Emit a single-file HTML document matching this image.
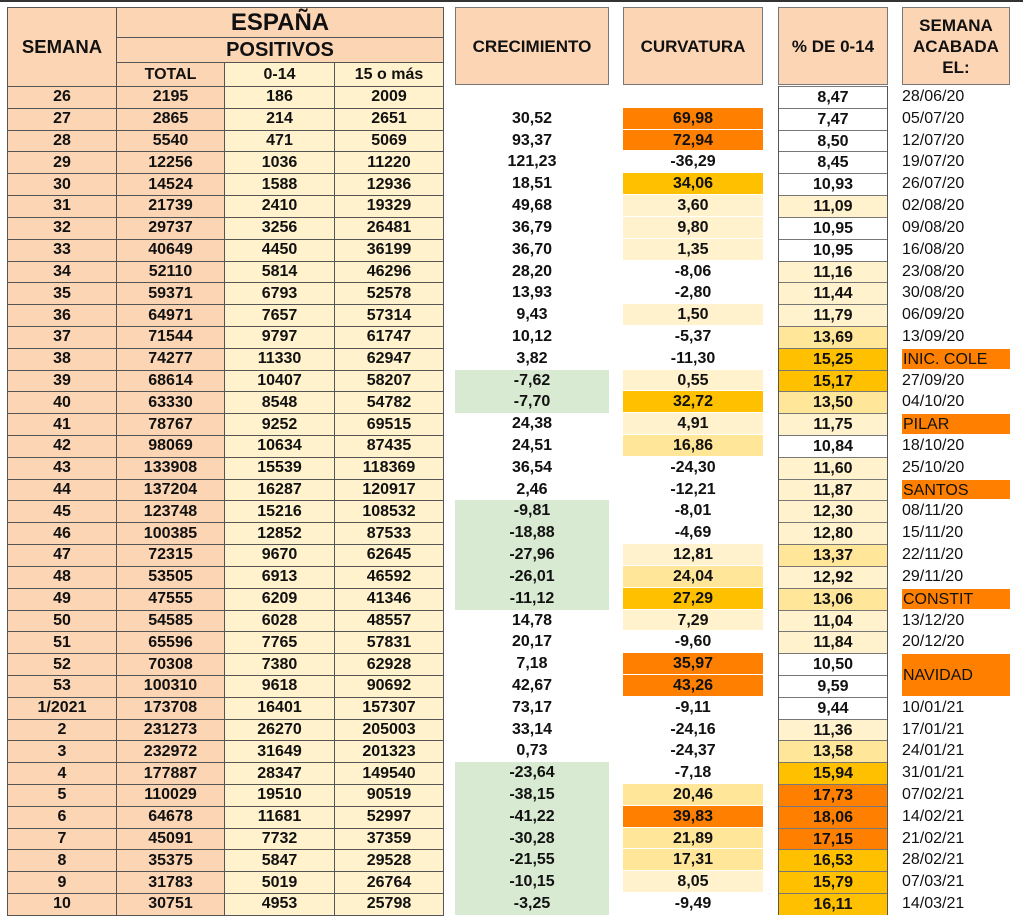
<!DOCTYPE html>
<html><head><meta charset="utf-8"><style>
*{margin:0;padding:0;box-sizing:border-box}
body{width:1023px;height:915px;background:#fff;position:relative;overflow:hidden;font-family:"Liberation Sans",sans-serif;color:#111}
.top{position:absolute;left:0;top:0;width:1023px;height:2px;background:#333}
table{position:absolute;border-collapse:collapse;table-layout:fixed}
#L{left:7px;top:7px;width:436px}
#L td{border:1px solid #555;text-align:center;font-weight:bold;font-size:16px;line-height:18px;padding:0;overflow:hidden;white-space:nowrap}
#L tr.d td{height:21.82px}
.pe{background:#fcd5b4}.ye{background:#fff2cc}
.col{position:absolute;top:86px}
.col div{height:21.82px;line-height:21.82px;text-align:center;font-weight:bold;font-size:16px;white-space:nowrap}
.hb{position:absolute;top:7px;height:78px;background:#fcd5b4;border:1px solid #777;display:flex;align-items:center;justify-content:center;text-align:center;font-weight:bold;font-size:17px;line-height:21px}
.P{background:#fff2cc}.Lg{background:#ffe699}.G{background:#ffc000}.O{background:#ff8000}.Gr{background:#d9ead3}
#C{left:455px;width:154px}
#V{left:623px;width:140px}
#V div{border-bottom:1px solid #fff}
#Q{left:778px;width:110px;border-left:1px solid #555;border-right:1px solid #555}
#Q div{border-top:1px solid #777}
#D{left:901px;width:110px}
#D div{text-align:left;font-weight:normal;font-size:16px;padding-left:1px}
#D div.O{border:1px solid #fff}
</style></head><body>
<div class="top"></div>
<table id="L">
<colgroup><col style="width:109px"><col style="width:108px"><col style="width:110px"><col style="width:109px"></colgroup>
<tr><td rowspan="3" class="pe" style="font-size:18.5px">SEMANA</td><td colspan="3" class="pe" style="height:30px;font-size:24px">ESPAÑA</td></tr>
<tr><td colspan="3" class="pe" style="height:25px;font-size:20px">POSITIVOS</td></tr>
<tr><td class="pe" style="height:24px">TOTAL</td><td class="ye">0-14</td><td class="ye">15 o más</td></tr>
<tr class="d"><td class="pe">26</td><td class="pe">2195</td><td class="ye">186</td><td class="ye">2009</td></tr>
<tr class="d"><td class="pe">27</td><td class="pe">2865</td><td class="ye">214</td><td class="ye">2651</td></tr>
<tr class="d"><td class="pe">28</td><td class="pe">5540</td><td class="ye">471</td><td class="ye">5069</td></tr>
<tr class="d"><td class="pe">29</td><td class="pe">12256</td><td class="ye">1036</td><td class="ye">11220</td></tr>
<tr class="d"><td class="pe">30</td><td class="pe">14524</td><td class="ye">1588</td><td class="ye">12936</td></tr>
<tr class="d"><td class="pe">31</td><td class="pe">21739</td><td class="ye">2410</td><td class="ye">19329</td></tr>
<tr class="d"><td class="pe">32</td><td class="pe">29737</td><td class="ye">3256</td><td class="ye">26481</td></tr>
<tr class="d"><td class="pe">33</td><td class="pe">40649</td><td class="ye">4450</td><td class="ye">36199</td></tr>
<tr class="d"><td class="pe">34</td><td class="pe">52110</td><td class="ye">5814</td><td class="ye">46296</td></tr>
<tr class="d"><td class="pe">35</td><td class="pe">59371</td><td class="ye">6793</td><td class="ye">52578</td></tr>
<tr class="d"><td class="pe">36</td><td class="pe">64971</td><td class="ye">7657</td><td class="ye">57314</td></tr>
<tr class="d"><td class="pe">37</td><td class="pe">71544</td><td class="ye">9797</td><td class="ye">61747</td></tr>
<tr class="d"><td class="pe">38</td><td class="pe">74277</td><td class="ye">11330</td><td class="ye">62947</td></tr>
<tr class="d"><td class="pe">39</td><td class="pe">68614</td><td class="ye">10407</td><td class="ye">58207</td></tr>
<tr class="d"><td class="pe">40</td><td class="pe">63330</td><td class="ye">8548</td><td class="ye">54782</td></tr>
<tr class="d"><td class="pe">41</td><td class="pe">78767</td><td class="ye">9252</td><td class="ye">69515</td></tr>
<tr class="d"><td class="pe">42</td><td class="pe">98069</td><td class="ye">10634</td><td class="ye">87435</td></tr>
<tr class="d"><td class="pe">43</td><td class="pe">133908</td><td class="ye">15539</td><td class="ye">118369</td></tr>
<tr class="d"><td class="pe">44</td><td class="pe">137204</td><td class="ye">16287</td><td class="ye">120917</td></tr>
<tr class="d"><td class="pe">45</td><td class="pe">123748</td><td class="ye">15216</td><td class="ye">108532</td></tr>
<tr class="d"><td class="pe">46</td><td class="pe">100385</td><td class="ye">12852</td><td class="ye">87533</td></tr>
<tr class="d"><td class="pe">47</td><td class="pe">72315</td><td class="ye">9670</td><td class="ye">62645</td></tr>
<tr class="d"><td class="pe">48</td><td class="pe">53505</td><td class="ye">6913</td><td class="ye">46592</td></tr>
<tr class="d"><td class="pe">49</td><td class="pe">47555</td><td class="ye">6209</td><td class="ye">41346</td></tr>
<tr class="d"><td class="pe">50</td><td class="pe">54585</td><td class="ye">6028</td><td class="ye">48557</td></tr>
<tr class="d"><td class="pe">51</td><td class="pe">65596</td><td class="ye">7765</td><td class="ye">57831</td></tr>
<tr class="d"><td class="pe">52</td><td class="pe">70308</td><td class="ye">7380</td><td class="ye">62928</td></tr>
<tr class="d"><td class="pe">53</td><td class="pe">100310</td><td class="ye">9618</td><td class="ye">90692</td></tr>
<tr class="d"><td class="pe">1/2021</td><td class="pe">173708</td><td class="ye">16401</td><td class="ye">157307</td></tr>
<tr class="d"><td class="pe">2</td><td class="pe">231273</td><td class="ye">26270</td><td class="ye">205003</td></tr>
<tr class="d"><td class="pe">3</td><td class="pe">232972</td><td class="ye">31649</td><td class="ye">201323</td></tr>
<tr class="d"><td class="pe">4</td><td class="pe">177887</td><td class="ye">28347</td><td class="ye">149540</td></tr>
<tr class="d"><td class="pe">5</td><td class="pe">110029</td><td class="ye">19510</td><td class="ye">90519</td></tr>
<tr class="d"><td class="pe">6</td><td class="pe">64678</td><td class="ye">11681</td><td class="ye">52997</td></tr>
<tr class="d"><td class="pe">7</td><td class="pe">45091</td><td class="ye">7732</td><td class="ye">37359</td></tr>
<tr class="d"><td class="pe">8</td><td class="pe">35375</td><td class="ye">5847</td><td class="ye">29528</td></tr>
<tr class="d"><td class="pe">9</td><td class="pe">31783</td><td class="ye">5019</td><td class="ye">26764</td></tr>
<tr class="d"><td class="pe">10</td><td class="pe">30751</td><td class="ye">4953</td><td class="ye">25798</td></tr>
</table>

<div class="hb" style="left:455px;width:154px">CRECIMIENTO</div>
<div class="hb" style="left:623px;width:140px">CURVATURA</div>
<div class="hb" style="left:778px;width:110px">% DE 0-14</div>
<div class="hb" style="left:902px;width:108px">SEMANA<br>ACABADA<br>EL:</div>

<div class="col" id="C">
<div></div><div>30,52</div><div>93,37</div><div>121,23</div><div>18,51</div><div>49,68</div><div>36,79</div><div>36,70</div><div>28,20</div><div>13,93</div><div>9,43</div><div>10,12</div><div>3,82</div><div class="Gr">-7,62</div><div class="Gr">-7,70</div><div>24,38</div><div>24,51</div><div>36,54</div><div>2,46</div><div class="Gr">-9,81</div><div class="Gr">-18,88</div><div class="Gr">-27,96</div><div class="Gr">-26,01</div><div class="Gr">-11,12</div><div>14,78</div><div>20,17</div><div>7,18</div><div>42,67</div><div>73,17</div><div>33,14</div><div>0,73</div><div class="Gr">-23,64</div><div class="Gr">-38,15</div><div class="Gr">-41,22</div><div class="Gr">-30,28</div><div class="Gr">-21,55</div><div class="Gr">-10,15</div><div class="Gr">-3,25</div>
</div>

<div class="col" id="V">
<div></div><div class="O">69,98</div><div class="O">72,94</div><div>-36,29</div><div class="G">34,06</div><div class="P">3,60</div><div class="P">9,80</div><div class="P">1,35</div><div>-8,06</div><div>-2,80</div><div class="P">1,50</div><div>-5,37</div><div>-11,30</div><div class="P">0,55</div><div class="G">32,72</div><div class="P">4,91</div><div class="Lg">16,86</div><div>-24,30</div><div>-12,21</div><div>-8,01</div><div>-4,69</div><div class="P">12,81</div><div class="Lg">24,04</div><div class="G">27,29</div><div class="P">7,29</div><div>-9,60</div><div class="O">35,97</div><div class="O">43,26</div><div>-9,11</div><div>-24,16</div><div>-24,37</div><div>-7,18</div><div class="Lg">20,46</div><div class="O">39,83</div><div class="Lg">21,89</div><div class="Lg">17,31</div><div class="P">8,05</div><div>-9,49</div>
</div>

<div class="col" id="Q">
<div>8,47</div><div>7,47</div><div>8,50</div><div>8,45</div><div>10,93</div><div class="P">11,09</div><div>10,95</div><div>10,95</div><div class="P">11,16</div><div class="P">11,44</div><div class="P">11,79</div><div class="Lg">13,69</div><div class="G">15,25</div><div class="G">15,17</div><div class="Lg">13,50</div><div class="P">11,75</div><div>10,84</div><div class="P">11,60</div><div class="P">11,87</div><div class="P">12,30</div><div class="P">12,80</div><div class="Lg">13,37</div><div class="P">12,92</div><div class="Lg">13,06</div><div class="P">11,04</div><div class="P">11,84</div><div>10,50</div><div>9,59</div><div>9,44</div><div class="P">11,36</div><div class="Lg">13,58</div><div class="G">15,94</div><div class="O">17,73</div><div class="O">18,06</div><div class="O">17,15</div><div class="G">16,53</div><div class="G">15,79</div><div class="G">16,11</div>
</div>

<div class="col" id="D">
<div>28/06/20</div><div>05/07/20</div><div>12/07/20</div><div>19/07/20</div><div>26/07/20</div><div>02/08/20</div><div>09/08/20</div><div>16/08/20</div><div>23/08/20</div><div>30/08/20</div><div>06/09/20</div><div>13/09/20</div><div class="O">INIC. COLE</div><div>27/09/20</div><div>04/10/20</div><div class="O">PILAR</div><div>18/10/20</div><div>25/10/20</div><div class="O">SANTOS</div><div>08/11/20</div><div>15/11/20</div><div>22/11/20</div><div>29/11/20</div><div class="O">CONSTIT</div><div>13/12/20</div><div>20/12/20</div><div class="O" style="height:43.64px;line-height:43.64px">NAVIDAD</div><div>10/01/21</div><div>17/01/21</div><div>24/01/21</div><div>31/01/21</div><div>07/02/21</div><div>14/02/21</div><div>21/02/21</div><div>28/02/21</div><div>07/03/21</div><div>14/03/21</div>
</div>
</body></html>
